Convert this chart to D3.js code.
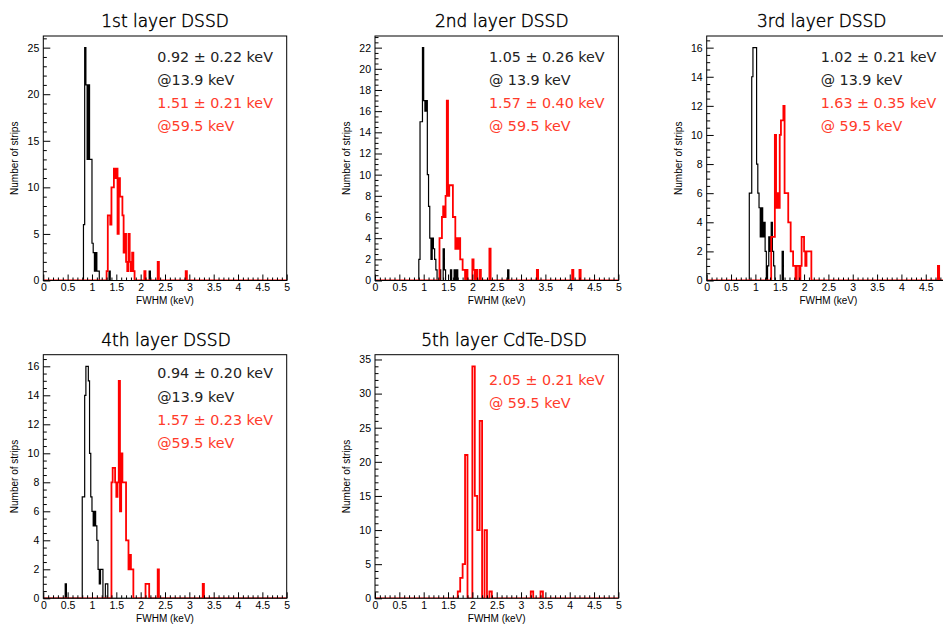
<!DOCTYPE html>
<html><head><meta charset="utf-8">
<script src="https://cdn.jsdelivr.net/npm/d3@7"></script>
<style>body{margin:0;background:#fff}svg{display:block}</style>
</head><body>
<svg id="c" width="943" height="627"></svg>
<script>
// ---------- data ----------
const titles = ["1st layer DSSD", "2nd layer DSSD", "3rd layer DSSD", "4th layer DSSD", "5th layer CdTe-DSD"];
const xTickValues = [0, 0.5, 1, 1.5, 2, 2.5, 3, 3.5, 4, 4.5, 5];
const xTickLabels = ["0", "0.5", "1", "1.5", "2", "2.5", "3", "3.5", "4", "4.5", "5"];
const yMaxValues = [26.25, 23.1, 16.8, 16.8, 35.7];
const yTickSteps = [5, 2, 2, 2, 5];
const binWidths = [0.025, 0.025, 0.025, 0.025, 0.05];
const blackLabels = [
  ["0.92 ± 0.22 keV", "@13.9 keV"],
  ["1.05 ± 0.26 keV", "@ 13.9 keV"],
  ["1.02 ± 0.21 keV", "@ 13.9 keV"],
  ["0.94 ± 0.20 keV", "@13.9 keV"],
  []
];
const redLabels = [
  ["1.51 ± 0.21 keV", "@59.5 keV"],
  ["1.57 ± 0.40 keV", "@ 59.5 keV"],
  ["1.63 ± 0.35 keV", "@ 59.5 keV"],
  ["1.57 ± 0.23 keV", "@59.5 keV"],
  ["2.05 ± 0.21 keV", "@ 59.5 keV"]
];

// histograms: [bin low edge (keV), number of strips]
const layer1_13keV = [[0.825,6],[0.85,25],[0.875,21],[0.9,13],[0.925,21],[0.95,13],[0.975,13],[1.0,4],[1.025,3],[1.05,1],[1.075,3],[1.1,1],[1.125,1],[1.35,1],[2.175,1]];
const layer1_59keV = [[1.3,1],[1.325,7],[1.35,7],[1.375,6],[1.4,10],[1.425,10],[1.45,12],[1.475,11],[1.5,12],[1.525,5],[1.55,11],[1.575,9],[1.6,9],[1.625,7],[1.65,3],[1.675,5],[1.7,2],[1.725,1],[1.75,5],[1.775,2],[1.8,1],[1.825,3],[1.85,1],[2.075,1],[2.35,2],[2.925,1]];
const layer2_13keV = [[0.9,2],[0.925,15],[0.95,15],[0.975,22],[1.0,17],[1.025,16],[1.05,17],[1.075,10],[1.1,7],[1.125,4],[1.15,2],[1.175,4],[1.2,3],[1.225,2],[1.25,1],[1.325,1],[1.4,3],[1.425,1],[1.55,1],[1.625,1],[1.675,1],[2.725,1]];
const layer2_59keV = [[1.325,4],[1.35,4],[1.375,6],[1.4,7],[1.425,6],[1.45,8],[1.475,17],[1.5,8],[1.525,9],[1.55,9],[1.575,9],[1.6,6],[1.625,6],[1.65,3],[1.675,4],[1.7,3],[1.725,4],[1.75,2],[1.775,2],[1.8,1],[1.825,1],[1.875,1],[2.0,2],[2.025,1],[2.075,1],[2.15,1],[2.35,3],[3.325,1],[4.05,1],[4.2,1]];
const layer3_13keV = [[0.875,6],[0.9,6],[0.925,14],[0.95,16],[0.975,16],[1.0,16],[1.025,8],[1.05,6],[1.075,5],[1.1,3],[1.125,5],[1.15,3],[1.175,4],[1.2,2],[1.25,1],[1.275,3],[1.3,2],[1.325,4],[1.35,2],[1.375,1],[1.55,2]];
const layer3_59keV = [[1.325,3],[1.35,3],[1.375,3],[1.4,10],[1.425,5],[1.45,6],[1.475,5],[1.5,10],[1.525,11],[1.55,11],[1.575,12],[1.6,6],[1.625,6],[1.65,6],[1.675,4],[1.7,4],[1.725,2],[1.75,2],[1.775,1],[1.8,1],[1.85,1],[1.875,1],[1.925,1],[1.95,3],[1.975,3],[2.0,2],[2.025,1],[2.05,2],[2.075,2],[2.1,2],[2.125,2],[4.75,1]];
const layer4_13keV = [[0.45,1],[0.8,7],[0.825,7],[0.85,14],[0.875,16],[0.9,16],[0.925,15],[0.95,10],[0.975,7],[1.0,6],[1.025,5],[1.05,6],[1.075,5],[1.1,4],[1.125,2],[1.15,1],[1.175,2],[1.2,2],[1.275,1],[1.3,1]];
const layer4_59keV = [[1.4,8],[1.425,9],[1.45,9],[1.475,8],[1.5,7],[1.525,8],[1.55,15],[1.575,6],[1.6,10],[1.625,8],[1.65,8],[1.675,8],[1.7,4],[1.725,4],[1.75,2],[1.775,3],[1.8,2],[1.825,2],[2.1,1],[2.125,1],[2.15,1],[2.35,2],[3.275,1]];
const layer5_59keV = [[1.7,1],[1.75,3],[1.8,5],[1.85,21],[2.0,34],[2.05,15],[2.1,10],[2.15,26],[2.25,10],[2.35,1],[3.2,1],[3.4,1]];

const histBlack = [layer1_13keV, layer2_13keV, layer3_13keV, layer4_13keV, null];
const histRed = [layer1_59keV, layer2_59keV, layer3_59keV, layer4_59keV, layer5_59keV];

// ---------- layout ----------
const W = 943;
const plotW = 243.4;
const panels = [
  {x: 43.3, y: 36, h: 244.5, tx: 165, ty: 27},
  {x: 375, y: 36, h: 244.5, tx: 501.7, ty: 27},
  {x: 706.7, y: 36, h: 244.5, tx: 821.7, ty: 27},
  {x: 43.3, y: 354.7, h: 243.6, tx: 166, ty: 346},
  {x: 375, y: 354.7, h: 243.6, tx: 504, ty: 346}
];
const RED = "#ff0000";
const RED_TEXT = "#ff3a2a";
const AXIS_FONT = "Liberation Sans, Arial, sans-serif";
const TEXT_FONT = "DejaVu Sans, sans-serif";
const svg = d3.select("#c");

function fullBins(pairs, bw) {
  const n = Math.round(5 / bw);
  const counts = new Array(n).fill(0);
  pairs.forEach(([lo, c]) => { counts[Math.round(lo / bw)] = c; });
  const pts = counts.map((c, i) => [i * bw, c]);
  pts.push([5, counts[n - 1]]);
  return pts;
}

panels.forEach((p, i) => {
  const g = svg.append("g");
  const x = d3.scaleLinear().domain([0, 5]).range([p.x, p.x + plotW]);
  const y = d3.scaleLinear().domain([0, yMaxValues[i]]).range([p.y + p.h, p.y]);
  const clipId = "clip" + i;
  svg.append("clipPath").attr("id", clipId).append("rect")
    .attr("x", p.x).attr("y", p.y - 2).attr("width", plotW).attr("height", p.h + 2);

  const line = d3.line().x(d => x(d[0])).y(d => y(d[1])).curve(d3.curveStepAfter);
  const hg = g.append("g").attr("clip-path", `url(#${clipId})`);
  if (histBlack[i]) {
    hg.append("path").attr("d", line(fullBins(histBlack[i], binWidths[i])))
      .attr("fill", "none").attr("stroke", "#000").attr("stroke-width", 1.2);
  }
  hg.append("path").attr("d", line(fullBins(histRed[i], binWidths[i])))
    .attr("fill", "none").attr("stroke", RED).attr("stroke-width", 1.8);

  // x axis: ticks inside
  const xMinor = d3.range(0, 5.0001, 0.1).filter(v => Math.abs(v * 2 - Math.round(v * 2)) > 1e-6);
  g.append("g").attr("transform", `translate(0,${p.y + p.h})`)
    .call(d3.axisBottom(x).tickValues(xMinor).tickSize(-3).tickFormat(""))
    .call(a => a.select(".domain").remove());
  g.append("g").attr("transform", `translate(0,${p.y + p.h})`)
    .call(d3.axisBottom(x).tickValues(xTickValues).tickSize(-6).tickPadding(3)
      .tickFormat((d, k) => xTickLabels[k]))
    .call(a => a.select(".domain").remove())
    .call(a => a.selectAll("text").attr("font-family", AXIS_FONT).attr("font-size", 10.5).attr("fill", "#000"))
    .call(a => a.selectAll(".tick").filter(d => x(d) > W - 4).select("text").remove());

  // y axis
  const step = yTickSteps[i];
  const yMajor = d3.range(0, yMaxValues[i] + 1e-6, step);
  const minorStep = step === 5 ? 1 : 0.5;
  const yMinor = d3.range(0, yMaxValues[i] + 1e-6, minorStep).filter(v => Math.abs(v / step - Math.round(v / step)) > 1e-6);
  g.append("g").attr("transform", `translate(${p.x},0)`)
    .call(d3.axisLeft(y).tickValues(yMinor).tickSize(-3.5).tickFormat(""))
    .call(a => a.select(".domain").remove());
  g.append("g").attr("transform", `translate(${p.x},0)`)
    .call(d3.axisLeft(y).tickValues(yMajor).tickSize(-7).tickPadding(4).tickFormat(d3.format("d")))
    .call(a => a.select(".domain").remove())
    .call(a => a.selectAll("text").attr("font-family", AXIS_FONT).attr("font-size", 10.5).attr("fill", "#000"));

  // frame
  g.append("rect").attr("x", p.x).attr("y", p.y).attr("width", plotW).attr("height", p.h)
    .attr("fill", "none").attr("stroke", "#000").attr("stroke-width", 1);

  // axis titles
  g.append("text").attr("x", p.x + plotW / 2).attr("y", p.y + p.h + 23.5)
    .attr("text-anchor", "middle").attr("font-family", AXIS_FONT)
    .attr("font-size", 10).text("FWHM (keV)");
  g.append("text").attr("transform", `translate(${p.x - 25},${p.y + p.h / 2}) rotate(-90)`)
    .attr("text-anchor", "middle").attr("font-family", AXIS_FONT)
    .attr("font-size", 10).text("Number of strips");

  // title
  g.append("text").attr("x", p.tx).attr("y", p.ty).attr("text-anchor", "middle")
    .attr("font-family", TEXT_FONT).attr("font-weight", 200).attr("font-size", 17)
    .attr("fill", "#000").attr("stroke", "#000").attr("stroke-width", 0.45)
    .text(titles[i]);

  // annotations
  const lines = blackLabels[i].map(t => [t, "#222"]).concat(redLabels[i].map(t => [t, RED_TEXT]));
  const top = i === 4 ? 25.3 : (i === 3 ? 18.6 : 20.7);
  lines.forEach(([t, col], k) => {
    g.append("text").attr("x", p.x + 114).attr("y", p.y + top + k * 23.1).attr("dy", "0.36em")
      .attr("font-family", TEXT_FONT).attr("font-weight", 400).attr("font-size", 14.3)
      .attr("fill", col).text(t);
  });
});
</script>
</body></html>
